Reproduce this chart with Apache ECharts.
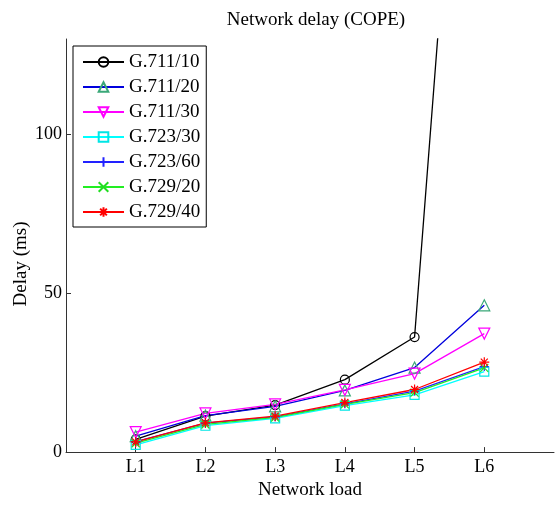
<!DOCTYPE html>
<html>
<head>
<meta charset="utf-8">
<script src="https://cdn.jsdelivr.net/npm/echarts@6/dist/echarts.min.js"></script>
<style>
  html, body { margin: 0; padding: 0; background: #fff; }
  #chart { width: 555px; height: 505px; }
</style>
</head>
<body>
<div id="chart"></div>
<script>
// network load levels (x positions 1..6)
let loads = ["L1", "L2", "L3", "L4", "L5", "L6"];
let loadX = [1, 2, 3, 4, 5, 6];
let yTicks = [0, 50, 100];

// delay values in ms
let g711_10 = [4.0, 11.3, 14.8, 22.8, 36.2, 320];
let g711_20 = [5.0, 11.5, 14.4, 19.4, 26.6, 46.2];
let g711_30 = [6.3, 12.2, 15.0, 19.6, 24.7, 37.3];
let g723_30 = [2.3, 8.3, 10.6, 14.6, 18.0, 25.3];
let g723_60 = [3.3, 9.1, 11.1, 15.2, 19.2, 26.9];
let g729_20 = [2.8, 8.7, 10.9, 15.0, 18.7, 26.5];
let g729_40 = [3.2, 9.2, 11.3, 15.6, 19.7, 28.3];

let font = "'Liberation Serif', 'DejaVu Serif', serif";

let sym = {
  triUp: "path://M5,0L10,8.66L0,8.66Z",
  triDown: "path://M0,0L10,0L5,8.66Z",
  plus: "path://M5,0L5,10M0,5L10,5",
  cross: "path://M0,0L10,10M0,10L10,0",
  star: "path://M5,0L5,10M0,5L10,5M1.5,1.5L8.5,8.5M1.5,8.5L8.5,1.5",
};

let makeSeries = (name, values, lineColor, markColor, symbol, size) => {
  return {
    name: name,
    type: "line",
    data: values.map((v, i) => [loadX[i], v]),
    symbol: symbol,
    symbolSize: size,
    showAllSymbol: true,
    clip: true,
    lineStyle: { color: lineColor, width: 1.3 },
    itemStyle: { color: "none", borderColor: markColor, borderWidth: 1.2 },
    emphasis: { disabled: true },
    z: 2,
  };
};

let myEchart = echarts.init(document.getElementById("chart"));

let options = {
  animation: false,
  backgroundColor: "#fff",
  title: {
    text: "Network delay (COPE)",
    left: 311,
    top: 6,
    textAlign: "center",
    textStyle: { fontFamily: font, fontSize: 19, fontWeight: "normal", color: "#000" },
  },
  legend: {
    orient: "vertical",
    left: 73,
    top: 46,
    backgroundColor: "#fff",
    borderColor: "#000",
    borderWidth: 1,
    borderRadius: 0,
    padding: [6, 6, 5, 9],
    itemWidth: 41,
    itemHeight: 12,
    itemGap: 5,
    textStyle: { fontFamily: font, fontSize: 19, lineHeight: 20, color: "#000" },
    z: 10,
  },
  grid: { left: 66, right: 1, top: 39, bottom: 49 },
  xAxis: {
    type: "value",
    min: 0,
    max: 7,
    interval: 1,
    name: "Network load",
    nameLocation: "middle",
    nameGap: 28,
    nameTextStyle: { fontFamily: font, fontSize: 19, color: "#000" },
    splitLine: { show: false },
    axisLine: { lineStyle: { color: "#333", width: 1 } },
    axisTick: { inside: true, length: 5, customValues: loadX, lineStyle: { color: "#333" } },
    axisLabel: {
      customValues: loadX,
      margin: 6,
      fontFamily: font,
      fontSize: 18,
      color: "#000",
      formatter: (v) => loads[v - 1],
    },
  },
  yAxis: {
    type: "value",
    min: 0,
    max: 130,
    interval: 50,
    splitLine: { show: false },
    axisLine: { show: true, lineStyle: { color: "#333", width: 1 } },
    axisTick: { inside: true, length: 5, customValues: yTicks, lineStyle: { color: "#333" } },
    axisLabel: {
      customValues: yTicks,
      margin: 4,
      fontFamily: font,
      fontSize: 18,
      color: "#000",
    },
  },
  graphic: [
    {
      type: "text",
      x: 21,
      y: 264,
      rotation: Math.PI / 2,
      style: {
        text: "Delay (ms)",
        fontFamily: font,
        fontSize: 19,
        fill: "#000",
        align: "center",
        verticalAlign: "middle",
      },
    },
  ],
  series: [
    makeSeries("G.711/10", g711_10, "#000000", "#000000", "circle", 9),
    makeSeries("G.711/20", g711_20, "#0000dd", "#3aa878", sym.triUp, 11),
    makeSeries("G.711/30", g711_30, "#ff00ff", "#ff00ff", sym.triDown, 11),
    makeSeries("G.723/30", g723_30, "#00ffff", "#00e5e5", "rect", 9),
    makeSeries("G.723/60", g723_60, "#2222ff", "#2222ff", sym.plus, 9),
    makeSeries("G.729/20", g729_20, "#22ee22", "#22dd22", sym.cross, 8),
    makeSeries("G.729/40", g729_40, "#ff0000", "#ff0000", sym.star, 10),
  ],
};

myEchart.setOption(options);
</script>
</body>
</html>
